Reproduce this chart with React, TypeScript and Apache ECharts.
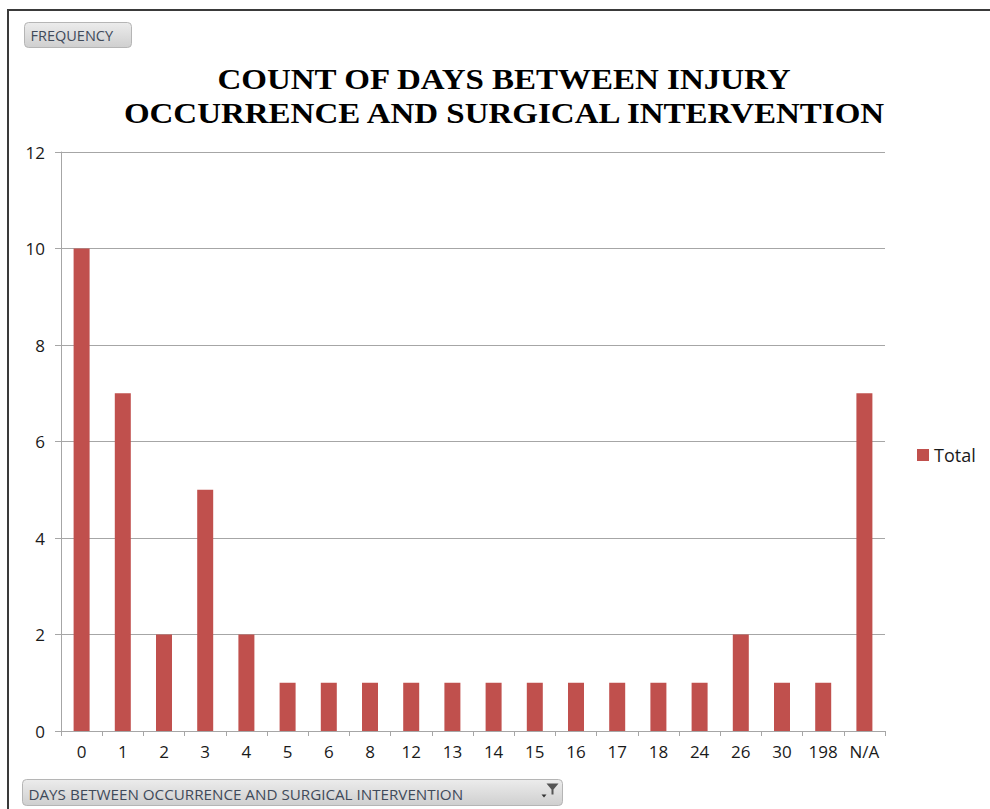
import React, { useEffect, useRef } from "react";
import * as echarts from "echarts";

const categories = ["0", "1", "2", "3", "4", "5", "6", "8", "12", "13", "14", "15", "16", "17", "18", "24", "26", "30", "198", "N/A"];
const totals = [10, 7, 2, 5, 2, 1, 1, 1, 1, 1, 1, 1, 1, 1, 1, 1, 2, 1, 1, 7];
const titleLines = ["COUNT OF DAYS BETWEEN INJURY", "OCCURRENCE AND SURGICAL INTERVENTION"];
const seriesName = "Total";
const filterLabel = "FREQUENCY";
const axisFieldLabel = "DAYS BETWEEN OCCURRENCE AND SURGICAL INTERVENTION";

export default function App() {
  const ref = useRef<HTMLDivElement>(null);
  useEffect(() => {
    if (!ref.current) return;
    const chart = echarts.init(ref.current, undefined, { renderer: "svg" });
    const btnFill = new echarts.graphic.LinearGradient(0, 0, 0, 1, [
      { offset: 0, color: "#ececec" },
      { offset: 1, color: "#cfcfcf" },
    ]);
    const titleStyle = {
      fontFamily: "Liberation Serif",
      fontWeight: "bold",
      fontSize: 30,
      fill: "#000000",
      align: "center",
      verticalAlign: "middle",
    };
    chart.setOption({
      animation: false,
      backgroundColor: "#ffffff",
      legend: {
        data: [seriesName],
        orient: "vertical",
        left: 912,
        top: 441,
        itemWidth: 12,
        itemHeight: 12,
        itemGap: 6,
        icon: "rect",
        textStyle: { fontFamily: "Open Sans", fontSize: 18, color: "#1a1a1a" },
      },
      grid: { left: 61, right: 105, top: 152, bottom: 78 },
      xAxis: {
        type: "category",
        data: categories,
        boundaryGap: true,
        axisLine: { show: true, lineStyle: { color: "#a6a6a6", width: 1 } },
        axisTick: { show: true, alignWithLabel: false, length: 5, lineStyle: { color: "#a6a6a6" } },
        axisLabel: { fontFamily: "Open Sans", fontSize: 17, color: "#1a1a1a", margin: 12, interval: 0 },
      },
      yAxis: {
        type: "value",
        min: 0,
        max: 12,
        interval: 2,
        axisLine: { show: true, lineStyle: { color: "#a6a6a6", width: 1 } },
        axisTick: { show: true, length: 6, lineStyle: { color: "#a6a6a6" } },
        axisLabel: { fontFamily: "Open Sans", fontSize: 17, color: "#1a1a1a", margin: 16 },
        splitLine: { show: true, lineStyle: { color: "#a6a6a6", width: 1 } },
      },
      series: [
        {
          name: seriesName,
          type: "bar",
          data: totals,
          barWidth: 16,
          itemStyle: { color: "#c0504d" },
        },
      ],
      graphic: [
        { type: "line", shape: { x1: 7, y1: 10, x2: 990, y2: 10 }, style: { stroke: "#3a3a3a", lineWidth: 2 } },
        { type: "line", shape: { x1: 8, y1: 9, x2: 8, y2: 809 }, style: { stroke: "#3a3a3a", lineWidth: 2 } },
        { type: "text", x: 504, y: 79, scaleX: 1.1, style: { ...titleStyle, text: titleLines[0] } },
        { type: "text", x: 504, y: 113, scaleX: 1.1, style: { ...titleStyle, text: titleLines[1] } },
        {
          type: "group",
          left: 24,
          top: 22,
          children: [
            { type: "rect", shape: { x: 0, y: 0, width: 107, height: 25, r: 4 }, style: { fill: btnFill, stroke: "#b5b5b5", lineWidth: 1 } },
            { type: "text", x: 6, y: 13, style: { text: filterLabel, fontFamily: "Open Sans", fontSize: 14.5, fill: "#404a5a", verticalAlign: "middle" } },
          ],
        },
        {
          type: "group",
          left: 22,
          top: 779,
          children: [
            { type: "rect", shape: { x: 0, y: 0, width: 540, height: 26, r: 4 }, style: { fill: btnFill, stroke: "#b5b5b5", lineWidth: 1 } },
            { type: "text", x: 6, y: 14, style: { text: axisFieldLabel, fontFamily: "Open Sans", fontSize: 15.2, fill: "#404a5a", verticalAlign: "middle" } },
            { type: "polygon", shape: { points: [[524, 4], [536, 4], [531, 10], [531, 15], [529, 15], [529, 10]] }, style: { fill: "#555" } },
            { type: "polygon", shape: { points: [[519, 15], [524, 15], [521.5, 18]] }, style: { fill: "#333" } },
          ],
        },
      ],
    });
    return () => chart.dispose();
  }, []);
  return <div ref={ref} style={{ position: "fixed", left: 0, top: 0, width: 990, height: 809 }} />;
}
